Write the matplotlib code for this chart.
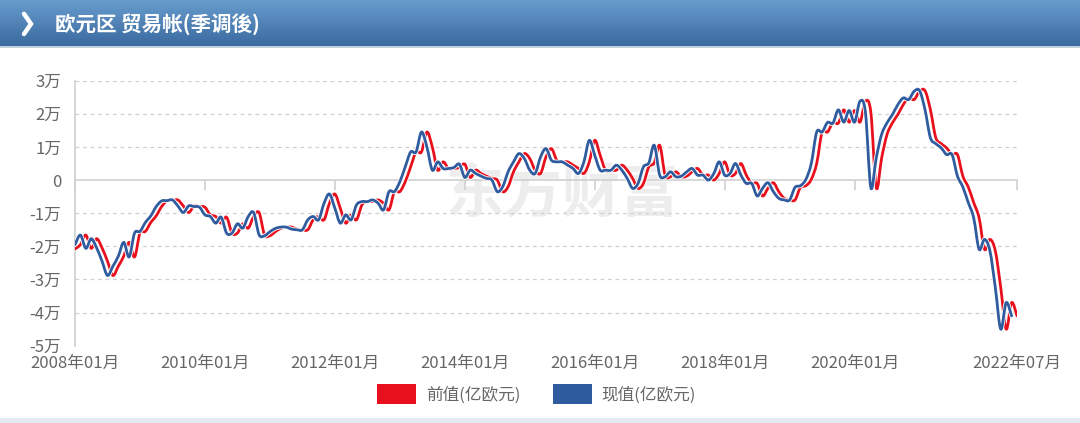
import numpy as np
import matplotlib.pyplot as plt
from matplotlib.path import Path
from matplotlib.patches import PathPatch, Patch
import matplotlib.patheffects as pe

plt.rcParams['font.family'] = ['Noto Sans CJK SC', 'DejaVu Sans']

# ================================
# 数据 (单位: 万, 月度, 2008-01 起)
# ================================
tick_pos = [0, 24, 48, 72, 96, 120, 144, 174]
tick_labels = ['2008年01月', '2010年01月', '2012年01月', '2014年01月',
               '2016年01月', '2018年01月', '2020年01月', '2022年07月']
y_ticks = [-5, -4, -3, -2, -1, 0, 1, 2, 3]

# 现值: 2008-01 ~ 2022-06
now_vals = [
    -1.95, -1.66, -2.06, -1.77, -2.05, -2.45, -2.88, -2.60, -2.30, -1.88, -2.32, -1.60,
    -1.55, -1.28, -1.08, -0.80, -0.63, -0.62, -0.60, -0.78, -0.98, -0.78, -0.80, -0.82,
    -1.05, -1.10, -1.30, -1.12, -1.60, -1.60, -1.32, -1.45, -1.10, -0.98, -1.65, -1.68,
    -1.56, -1.46, -1.42, -1.42, -1.48, -1.50, -1.50, -1.20, -1.10, -1.20, -0.70, -0.42,
    -0.85, -1.30, -1.05, -1.20, -0.75, -0.65, -0.65, -0.60, -0.70, -0.90, -0.35, -0.35,
    -0.05, 0.40, 0.85, 0.85, 1.45, 1.00, 0.30, 0.55, 0.35, 0.35, 0.38, 0.48,
    0.08, 0.30, 0.20, 0.12, 0.05, 0.00, -0.35, -0.20, 0.25, 0.55, 0.80, 0.65,
    0.30, 0.20, 0.70, 0.95, 0.60, 0.55, 0.55, 0.45, 0.35, 0.20, 0.55, 1.20,
    0.75, 0.30, 0.30, 0.30, 0.45, 0.30, 0.05, -0.25, -0.10, 0.40, 0.52, 1.05,
    0.15, 0.10, 0.25, 0.10, 0.12, 0.25, 0.35, 0.15, 0.15, 0.00, 0.20, 0.55,
    0.15, 0.20, 0.50, 0.15, -0.10, -0.10, -0.48, -0.25, -0.08, -0.35, -0.55, -0.60,
    -0.60, -0.22, -0.17, 0.02, 0.50, 1.45, 1.45, 1.74, 1.72, 2.12, 1.75, 2.10,
    1.75, 2.38, 2.05, -0.23, 0.67, 1.38, 1.73, 1.98, 2.28, 2.48, 2.43, 2.68,
    2.70, 2.13, 1.28, 1.10, 0.97, 0.77, 0.77, 0.12, -0.21, -0.68, -1.14, -2.09,
    -1.79, -2.14, -3.25, -4.50, -3.70, -4.10,
]

# 前值: 2008-01 ~ 2022-07
prev_vals = [
    -2.08, -1.95, -1.66, -2.06, -1.77, -2.05, -2.45, -2.88, -2.60, -2.30, -1.88, -2.32,
    -1.60, -1.55, -1.28, -1.08, -0.80, -0.63, -0.62, -0.60, -0.78, -0.98, -0.78, -0.80,
    -0.82, -1.05, -1.10, -1.30, -1.12, -1.60, -1.60, -1.32, -1.45, -1.10, -0.98, -1.65,
    -1.68, -1.56, -1.46, -1.42, -1.42, -1.48, -1.50, -1.50, -1.20, -1.10, -1.20, -0.70,
    -0.42, -0.85, -1.30, -1.05, -1.20, -0.75, -0.65, -0.65, -0.60, -0.70, -0.90, -0.35,
    -0.35, -0.05, 0.40, 0.85, 0.85, 1.45, 1.00, 0.30, 0.55, 0.35, 0.35, 0.38,
    0.48, 0.08, 0.30, 0.20, 0.12, 0.05, 0.00, -0.35, -0.20, 0.25, 0.55, 0.80,
    0.65, 0.30, 0.20, 0.70, 0.95, 0.60, 0.55, 0.55, 0.45, 0.35, 0.20, 0.55,
    1.20, 0.75, 0.30, 0.30, 0.30, 0.45, 0.30, 0.05, -0.25, -0.10, 0.40, 0.52,
    1.05, 0.15, 0.10, 0.25, 0.10, 0.12, 0.25, 0.35, 0.15, 0.15, 0.00, 0.20,
    0.55, 0.15, 0.20, 0.50, 0.15, -0.10, -0.10, -0.48, -0.25, -0.08, -0.35, -0.55,
    -0.60, -0.60, -0.22, -0.17, 0.02, 0.50, 1.45, 1.45, 1.74, 1.72, 2.12, 1.75,
    2.10, 1.75, 2.38, 2.05, -0.23, 0.67, 1.38, 1.73, 1.98, 2.28, 2.48, 2.43,
    2.68, 2.70, 2.13, 1.28, 1.10, 0.97, 0.77, 0.77, 0.12, -0.21, -0.68, -1.14,
    -2.09, -1.79, -2.14, -3.25, -4.50, -3.70, -4.10,
]

RED = '#E8101C'
BLUE = '#2F5C9E'
GRID = '#D0D0D0'
TXT = '#666666'


def smooth_path(ys):
    # 平滑曲线 (Catmull-Rom 转三次贝塞尔)
    xs = np.arange(len(ys), dtype=float)
    ys = np.asarray(ys, dtype=float)
    n = len(xs)
    verts = [(xs[0], ys[0])]
    codes = [Path.MOVETO]
    for k in range(n - 1):
        k0 = max(k - 1, 0)
        k3 = min(k + 2, n - 1)
        c1 = (xs[k] + (xs[k + 1] - xs[k0]) / 6, ys[k] + (ys[k + 1] - ys[k0]) / 6)
        c2 = (xs[k + 1] - (xs[k3] - xs[k]) / 6, ys[k + 1] - (ys[k3] - ys[k]) / 6)
        verts += [c1, c2, (xs[k + 1], ys[k + 1])]
        codes += [Path.CURVE4] * 3
    return Path(verts, codes)


W, H = 1080, 423
fig = plt.figure(figsize=(W / 100, H / 100), dpi=100)
fig.patch.set_facecolor('white')

# 标题栏
hdr = fig.add_axes([0, 1 - 46 / H, 1, 46 / H])
grad = np.linspace(0, 1, 50).reshape(-1, 1)
top = np.array([0x68, 0x9C, 0xCD]) / 255
bot = np.array([0x3A, 0x6A, 0xA0]) / 255
img = top + (bot - top) * grad[:, :, None]
hdr.imshow(img, aspect='auto', extent=[0, 1, 0, 1])
hdr.set_xlim(0, 1)
hdr.set_ylim(0, 1)
hdr.axis('off')
hdr.plot([24 / W, 31 / W, 24 / W], [0.70, 0.48, 0.26], color='white', lw=3.2,
         solid_capstyle='round', solid_joinstyle='miter')
hdr.text(55 / W, 0.48, '欧元区 贸易帐(季调後)', color='white', fontsize=14.8,
         fontweight='bold', va='center', ha='left')
fig.add_artist(plt.Line2D([0, 1], [1 - 47.5 / H] * 2, color='#B5C9DE', lw=1.2))
fig.add_artist(plt.Line2D([0, 1], [2.5 / H] * 2, color='#E2EAF2', lw=5))

# 主图
left, right = 75 / W, 1017 / W
btm, tp = 1 - 345.7 / H, 1 - 80.7 / H
ax = fig.add_axes([left, btm, right - left, tp - btm])
ax.set_xlim(0, 174)
ax.set_ylim(-5, 3)

for v in y_ticks:
    if v == 0:
        continue
    ax.axhline(v, color=GRID, lw=0.9, ls=(0, (3, 3)), zorder=1)

ax.text(562 / W, 1 - 196 / H, '东方财富', transform=fig.transFigure, fontsize=42,
        fontweight='bold', color='#EDEDED', ha='center', va='center', zorder=0.5)

for vals, col in [(prev_vals, RED), (now_vals, BLUE)]:
    patch = PathPatch(smooth_path(vals), facecolor='none', edgecolor=col, lw=2.0,
                      zorder=3, capstyle='round', joinstyle='round')
    patch.set_path_effects([pe.Stroke(linewidth=3.2, foreground='white'), pe.Normal()])
    ax.add_patch(patch)

for s in ['top', 'right']:
    ax.spines[s].set_visible(False)
ax.spines['left'].set_color(GRID)
ax.spines['left'].set_linewidth(1.2)
ax.spines['bottom'].set_position(('data', 0))
ax.spines['bottom'].set_color(GRID)
ax.spines['bottom'].set_linewidth(1.2)
ax.spines['bottom'].set_zorder(2)

ax.set_xticks(tick_pos)
ax.tick_params(axis='x', length=7, width=1.2, color=GRID, labelbottom=False)
ax.set_yticks(y_ticks)
ax.set_yticklabels(['0' if v == 0 else f'{v}万' for v in y_ticks])
ax.tick_params(axis='y', length=0, pad=10, labelsize=12, labelcolor=TXT)

sec = ax.secondary_xaxis('bottom')
sec.set_xticks(tick_pos)
sec.set_xticklabels(tick_labels)
sec.tick_params(length=0, pad=6.5, labelsize=12, labelcolor=TXT)
sec.spines['bottom'].set_visible(False)

handles = [Patch(facecolor=RED, edgecolor='none'), Patch(facecolor=BLUE, edgecolor='none')]
leg = fig.legend(handles, ['前值(亿欧元)', '现值(亿欧元)'], loc='center',
                 bbox_to_anchor=(0.497, 1 - 394 / H), ncol=2, frameon=False,
                 fontsize=12, handlelength=2.3, handleheight=1.4,
                 handletextpad=0.6, columnspacing=2.0)
for t in leg.get_texts():
    t.set_color(TXT)

fig.savefig('out.png', dpi=100, facecolor='white')
